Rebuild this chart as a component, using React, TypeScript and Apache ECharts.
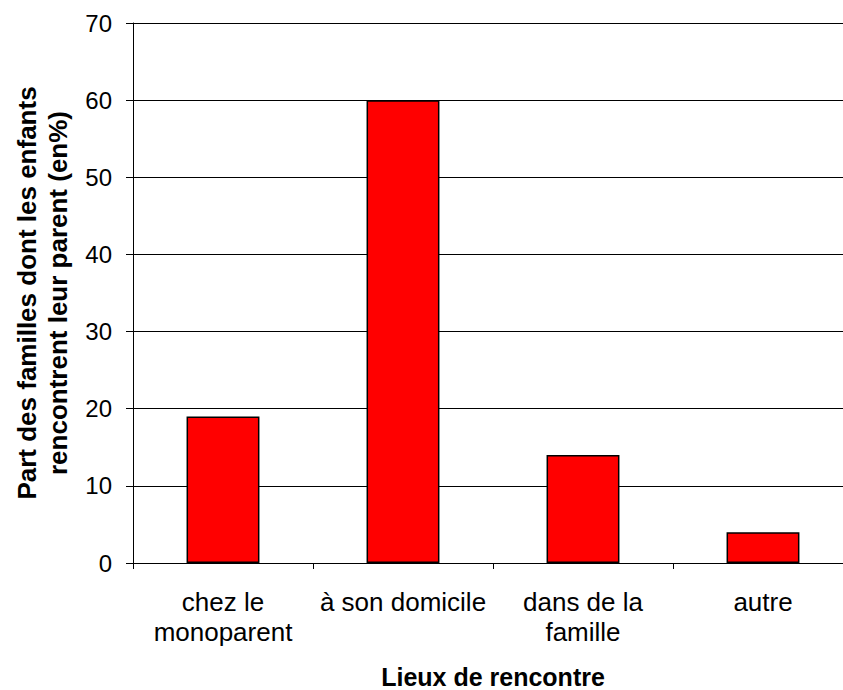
import React, { useEffect, useRef } from "react";
import * as echarts from "echarts";

const categories = ["chez le\nmonoparent", "à son domicile", "dans de la\nfamille", "autre"];
const values = [19, 60, 14, 4];
const yTicks = { min: 0, max: 70, interval: 10 };
const yAxisTitle = "Part des familles dont les enfants\nrencontrent leur parent (en%)";
const xAxisTitle = "Lieux de rencontre";

const FONT = "'Liberation Sans', Arial, sans-serif";

export default function App() {
  const ref = useRef<HTMLDivElement>(null);
  useEffect(() => {
    document.body.style.margin = "0";
    document.body.style.overflow = "hidden";
    if (!ref.current) return;
    const chart = echarts.init(ref.current, undefined, { renderer: "svg" });
    chart.setOption({
      animation: false,
      backgroundColor: "#ffffff",
      grid: {
        left: 133,
        top: 23,
        right: -10,
        bottom: 127,
        containLabel: false,
        outerBoundsMode: "none",
      },
      xAxis: {
        type: "category",
        data: categories,
        name: xAxisTitle,
        nameLocation: "middle",
        nameGap: 101,
        nameTextStyle: { fontFamily: FONT, fontSize: 25, fontWeight: "bold", color: "#000", lineHeight: 25 },
        axisLine: { lineStyle: { color: "#000", width: 1 } },
        axisTick: { show: true, length: 6, lineStyle: { color: "#000" } },
        axisLabel: { fontFamily: FONT, fontSize: 26, color: "#000", margin: 24, lineHeight: 30, interval: 0 },
        splitLine: { show: false },
      },
      yAxis: {
        type: "value",
        min: yTicks.min,
        max: yTicks.max,
        interval: yTicks.interval,
        name: yAxisTitle,
        nameLocation: "middle",
        nameRotate: 90,
        nameGap: 60,
        nameTextStyle: { fontFamily: FONT, fontSize: 26, fontWeight: "bold", color: "#000", lineHeight: 31 },
        axisLine: { show: true, lineStyle: { color: "#000", width: 1 } },
        axisTick: { show: true, length: 7, lineStyle: { color: "#000" } },
        axisLabel: { fontFamily: FONT, fontSize: 24, color: "#000", margin: 21 },
        splitLine: { show: true, lineStyle: { color: "#000", width: 1 } },
      },
      series: [
        {
          type: "bar",
          data: values,
          barWidth: "40.5%",
          itemStyle: { color: "#ff0000", borderColor: "#000", borderWidth: 1.5 },
        },
      ],
    });
    return () => chart.dispose();
  }, []);
  return <div ref={ref} style={{ width: 843, height: 690 }} />;
}
